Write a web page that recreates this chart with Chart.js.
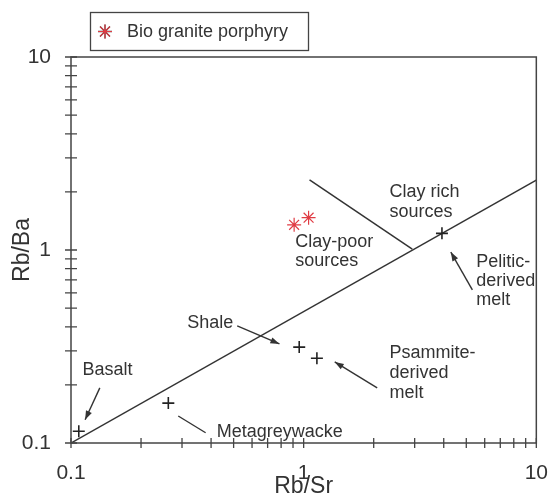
<!DOCTYPE html>
<html>
<head>
<meta charset="utf-8">
<script src="https://cdn.jsdelivr.net/npm/chart.js@4.4.1/dist/chart.umd.min.js"></script>
<style>
  html, body { margin: 0; padding: 0; background: #fff; }
  #wrap { width: 558px; height: 499px; }
</style>
</head>
<body>
<div id="wrap"><canvas id="chart" width="558" height="499"></canvas></div>
<script>
// 참고 자료 (Rb/Sr, Rb/Ba)
const refNames = ['Basalt', 'Metagreywacke', 'Shale', 'Psammite-derived melt', 'Pelitic-derived melt'];
const refRbSr = [0.108, 0.262, 0.957, 1.14, 3.93];
const refRbBa = [0.115, 0.161, 0.314, 0.275, 1.22];

// 시료
const sampleName = 'Bio granite porphyry';
const sampleRbSr = [0.91, 1.05];
const sampleRbBa = [1.35, 1.47];

// 경계선
const dividerRbSr = [0.1, 10];
const dividerRbBa = [0.1, 2.3];
const boundaryRbSr = [1.06, 2.93];
const boundaryRbBa = [2.31, 1.01];

// 축 눈금
const xTickValues = [0.1, 0.2, 0.3, 0.4, 0.5, 0.6, 0.7, 0.8, 0.9, 1, 2, 3, 4, 5, 6, 7, 8, 9, 10];
const yTickValues = [0.1, 0.2, 0.3, 0.4, 0.5, 0.6, 0.7, 0.8, 0.9, 1, 2, 3, 4, 5, 6, 7, 8, 9, 10];
const tickLabels = ['0.1', '1', '10'];
const xTitle = 'Rb/Sr';
const yTitle = 'Rb/Ba';

// 영역 라벨 (데이터 좌표 기준, 왼쪽/가운데 정렬)
const fieldLabels = [
    { lines: ['Clay rich', 'sources'], x: 2.34, y: 2.0, lh: 20 },
    { lines: ['Clay-poor', 'sources'], x: 0.92, y: 1.10, lh: 19 },
    { lines: ['Pelitic-', 'derived', 'melt'], x: 5.52, y: 0.867, lh: 19 },
    { lines: ['Psammite-', 'derived', 'melt'], x: 2.34, y: 0.292, lh: 20 },
    { lines: ['Shale'], x: 0.316, y: 0.419, lh: 20 },
    { lines: ['Basalt'], x: 0.112, y: 0.239, lh: 20 },
    { lines: ['Metagreywacke'], x: 0.423, y: 0.114, lh: 20 }
];

// 화살표 / 지시선 (from -> to)
const pointers = [
    { from: [0.133, 0.193], to: [0.115, 0.132], head: true },
    { from: [0.289, 0.138], to: [0.379, 0.113], head: false },
    { from: [0.518, 0.404], to: [0.787, 0.326], head: true },
    { from: [2.07, 0.193], to: [1.36, 0.263], head: true },
    { from: [5.31, 0.621], to: [4.29, 0.976], head: true }
];

const FONT = '"Liberation Sans", Arial, sans-serif';
const INK = '#333333';

const decorPlugin = {
    id: 'decor',
    afterDraw: (chart) => {
        const ctx = chart.ctx;
        const xs = chart.scales.x;
        const ys = chart.scales.y;
        const area = chart.chartArea;

        // 프레임
        ctx.save();
        ctx.strokeStyle = '#444';
        ctx.lineWidth = 1.5;
        ctx.strokeRect(area.left, area.top, area.right - area.left, area.bottom - area.top);

        // 눈금 (축을 가로지름)
        ctx.lineWidth = 1.3;
        ctx.beginPath();
        xs.ticks.forEach((t) => {
            const px = xs.getPixelForValue(t.value);
            ctx.moveTo(px, area.bottom - 5);
            ctx.lineTo(px, area.bottom + 5);
        });
        ys.ticks.forEach((t) => {
            const py = ys.getPixelForValue(t.value);
            ctx.moveTo(area.left - 6, py);
            ctx.lineTo(area.left + 6, py);
        });
        ctx.stroke();
        ctx.restore();

        // 화살표
        ctx.save();
        ctx.strokeStyle = INK;
        ctx.fillStyle = INK;
        ctx.lineWidth = 1.4;
        pointers.forEach((p) => {
            const x0 = xs.getPixelForValue(p.from[0]);
            const y0 = ys.getPixelForValue(p.from[1]);
            const x1 = xs.getPixelForValue(p.to[0]);
            const y1 = ys.getPixelForValue(p.to[1]);
            ctx.beginPath();
            ctx.moveTo(x0, y0);
            ctx.lineTo(x1, y1);
            ctx.stroke();
            if (p.head) {
                const a = Math.atan2(y1 - y0, x1 - x0);
                const len = 9, w = 3.2;
                ctx.beginPath();
                ctx.moveTo(x1, y1);
                ctx.lineTo(x1 - len * Math.cos(a) + w * Math.sin(a), y1 - len * Math.sin(a) - w * Math.cos(a));
                ctx.lineTo(x1 - len * Math.cos(a) - w * Math.sin(a), y1 - len * Math.sin(a) + w * Math.cos(a));
                ctx.closePath();
                ctx.fill();
            }
        });
        ctx.restore();

        // 영역 라벨
        ctx.save();
        ctx.font = '18px ' + FONT;
        ctx.fillStyle = INK;
        ctx.textAlign = 'left';
        ctx.textBaseline = 'middle';
        fieldLabels.forEach((f) => {
            const px = xs.getPixelForValue(f.x);
            const py = ys.getPixelForValue(f.y);
            f.lines.forEach((line, i) => ctx.fillText(line, px, py + i * f.lh));
        });
        ctx.restore();

        // 축 제목
        ctx.save();
        ctx.font = '23px ' + FONT;
        ctx.fillStyle = INK;
        ctx.textAlign = 'center';
        ctx.textBaseline = 'middle';
        ctx.fillText(xTitle, (area.left + area.right) / 2, area.bottom + 44);
        ctx.translate(area.left - 48, (area.top + area.bottom) / 2);
        ctx.rotate(-Math.PI / 2);
        ctx.fillText(yTitle, 0, 0);
        ctx.restore();

        // 범례
        const ds = chart.data.datasets[0];
        ctx.save();
        ctx.strokeStyle = '#444';
        ctx.lineWidth = 1.3;
        ctx.strokeRect(90.5, 12.5, 218, 38);
        const meta = chart.getDatasetMeta(0);
        Chart.helpers.drawPoint(ctx, {
            pointStyle: ds.pointStyle,
            radius: ds.pointRadius,
            borderWidth: ds.borderWidth
        }, 105, 31.5);
        ctx.strokeStyle = ds.borderColor;
        ctx.lineWidth = ds.borderWidth;
        Chart.helpers.drawPoint(ctx, {
            pointStyle: ds.pointStyle,
            radius: ds.pointRadius,
            borderWidth: ds.borderWidth
        }, 105, 31.5);
        ctx.font = '18px ' + FONT;
        ctx.fillStyle = INK;
        ctx.textAlign = 'left';
        ctx.textBaseline = 'middle';
        ctx.fillText(ds.label, 127, 32);
        ctx.restore();
    }
};

const tickCallback = function (value) {
    const s = String(Number(value.toPrecision(3)));
    return tickLabels.includes(s) ? s : '';
};

new Chart(document.getElementById('chart'), {
    type: 'scatter',
    data: {
        datasets: [
            {
                label: sampleName,
                data: sampleRbSr.map((v, i) => ({ x: v, y: sampleRbBa[i] })),
                pointStyle: 'star',
                pointRadius: 7,
                borderColor: '#e03c44',
                backgroundColor: '#e03c44',
                borderWidth: 1.2
            },
            {
                label: 'Reference',
                data: refRbSr.map((v, i) => ({ x: v, y: refRbBa[i], name: refNames[i] })),
                pointStyle: 'cross',
                pointRadius: 6,
                borderColor: '#222',
                borderWidth: 1.6
            },
            {
                label: 'divider',
                type: 'line',
                data: dividerRbSr.map((v, i) => ({ x: v, y: dividerRbBa[i] })),
                borderColor: INK,
                borderWidth: 1.5,
                pointRadius: 0,
                fill: false
            },
            {
                label: 'boundary',
                type: 'line',
                data: boundaryRbSr.map((v, i) => ({ x: v, y: boundaryRbBa[i] })),
                borderColor: INK,
                borderWidth: 1.5,
                pointRadius: 0,
                fill: false
            }
        ]
    },
    options: {
        responsive: false,
        animation: false,
        events: [],
        plugins: {
            legend: { display: false },
            tooltip: { enabled: false }
        },
        layout: {
            padding: { top: 57, right: 14, left: 0, bottom: 0 }
        },
        scales: {
            x: {
                type: 'logarithmic',
                min: 0.1,
                max: 10,
                afterBuildTicks: (scale) => { scale.ticks = xTickValues.map((v) => ({ value: v })); },
                afterFit: (scale) => { scale.height = 56; },
                grid: { display: false },
                border: { display: false },
                ticks: {
                    autoSkip: false,
                    maxRotation: 0,
                    padding: 10,
                    color: INK,
                    font: { size: 21, family: FONT },
                    callback: tickCallback
                }
            },
            y: {
                type: 'logarithmic',
                min: 0.1,
                max: 10,
                afterBuildTicks: (scale) => { scale.ticks = yTickValues.map((v) => ({ value: v })); },
                afterFit: (scale) => { scale.width = 71; },
                grid: { display: false },
                border: { display: false },
                ticks: {
                    autoSkip: false,
                    padding: 12,
                    color: INK,
                    font: { size: 21, family: FONT },
                    callback: tickCallback
                }
            }
        }
    },
    plugins: [decorPlugin]
});
</script>
</body>
</html>
